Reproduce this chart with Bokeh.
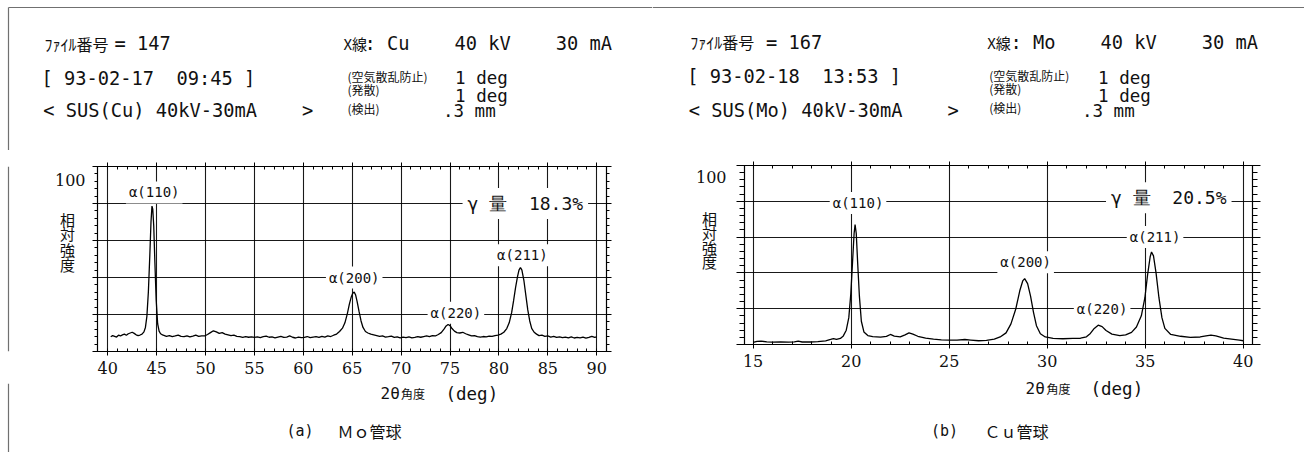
from bokeh.plotting import figure
from bokeh.models import Range1d, LinearAxis, SingleIntervalTicker, Label
from bokeh.layouts import row, column
from bokeh.core.properties import value
from bokeh.embed import file_html
from bokeh.resources import INLINE

# ---------------- data ----------------
# (a) left scan: 2theta (deg) and relative intensity
left_2theta = [
    40.3, 40.5, 40.7, 40.9, 41.1, 41.3, 41.5, 41.7, 41.9, 42.1,
    42.3, 42.5, 42.7, 42.9, 43.1, 43.3, 43.5, 43.7, 43.85, 44.0,
    44.15, 44.3, 44.42, 44.52, 44.6, 44.7, 44.82, 44.95, 45.1, 45.25,
    45.4, 45.6, 45.8, 46.0, 46.3, 46.6, 46.9, 47.2, 47.5, 47.8,
    48.1, 48.4, 48.7, 49.0, 49.3, 49.6, 49.9, 50.2, 50.5, 50.8,
    51.1, 51.4, 51.7, 52.0, 52.3, 52.6, 52.9, 53.2, 53.5, 53.8,
    54.1, 54.4, 54.7, 55.0, 55.3, 55.6, 55.9, 56.2, 56.5, 56.8,
    57.1, 57.4, 57.7, 58.0, 58.3, 58.6, 58.9, 59.2, 59.5, 59.8,
    60.1, 60.4, 60.7, 61.0, 61.3, 61.6, 61.9, 62.2, 62.5, 62.8,
    63.1, 63.4, 63.7, 64.0, 64.25, 64.5, 64.7, 64.9, 65.05, 65.2,
    65.35, 65.5, 65.7, 65.9, 66.1, 66.35, 66.6, 66.9, 67.2, 67.5,
    67.8, 68.1, 68.4, 68.7, 69.0, 69.3, 69.6, 69.9, 70.2, 70.5,
    70.8, 71.1, 71.4, 71.7, 72.0, 72.3, 72.6, 72.9, 73.2, 73.5,
    73.8, 74.1, 74.4, 74.6, 74.8, 75.0, 75.2, 75.45, 75.7, 76.0,
    76.3, 76.6, 76.9, 77.2, 77.5, 77.8, 78.1, 78.4, 78.7, 79.0,
    79.3, 79.6, 79.9, 80.2, 80.5, 80.8, 81.05, 81.3, 81.5, 81.7,
    81.9, 82.05, 82.2, 82.35, 82.55, 82.75, 82.95, 83.15, 83.35, 83.6,
    83.85, 84.1, 84.4, 84.7, 85.0, 85.3, 85.6, 85.9, 86.2, 86.5,
    86.8, 87.1, 87.4, 87.7, 88.0, 88.3, 88.6, 88.9, 89.2, 89.5,
    89.8, 90.0,
]
left_intensity = [
    8.0, 8.6, 8.2, 7.8, 8.8, 8.4, 9.0, 9.4, 8.8, 9.6,
    10.0, 10.4, 9.8, 9.0, 8.6, 8.9, 9.4, 10.6, 13.0, 19.0,
    32.0, 52.0, 70.0, 78.6, 77.0, 68.0, 48.0, 28.0, 15.0, 11.0,
    9.6, 9.0, 8.6, 8.2, 8.6, 8.0, 8.4, 8.9, 8.2, 8.0,
    8.5, 7.9, 8.3, 8.8, 8.2, 8.5, 8.4, 9.2, 10.2, 11.2,
    10.6, 9.8, 10.2, 9.4, 9.0, 8.6, 8.8, 8.2, 8.0, 7.6,
    8.0, 7.7, 7.9, 7.6, 7.9, 7.5, 8.0, 8.3, 7.7, 7.9,
    7.4, 7.8, 8.2, 7.6, 7.8, 8.4, 7.7, 7.3, 7.8, 7.5,
    7.6, 8.1, 7.5, 7.8, 8.0, 7.6, 8.2, 7.8, 8.4, 8.1,
    8.8, 9.4, 10.8, 12.6, 15.5, 20.5, 25.5, 29.5, 31.5, 32.1,
    30.5, 27.0, 21.5, 16.5, 13.0, 10.8, 10.0, 9.4, 9.0, 8.6,
    8.2, 8.4, 7.8, 8.0, 8.3, 7.6, 7.9, 7.4, 7.8, 7.5,
    7.9, 7.4, 7.6, 8.0, 7.7, 8.1, 8.4, 8.0, 8.6, 8.4,
    9.2, 10.2, 12.2, 13.8, 14.6, 14.0, 12.4, 11.0, 10.2, 10.0,
    10.4, 9.6, 9.0, 8.4, 8.6, 8.0, 7.8, 8.1, 7.9, 8.3,
    8.2, 8.6, 8.8, 9.4, 10.4, 12.4, 15.5, 21.0, 27.5, 34.5,
    40.5, 44.0, 45.4, 44.0, 38.5, 30.5, 22.5, 16.5, 12.5, 10.4,
    9.4, 8.6, 8.8, 8.2, 8.4, 7.8, 8.2, 7.6, 7.9, 7.5,
    7.8, 7.4, 7.9, 7.3, 7.6, 7.4, 7.8, 7.2, 7.6, 8.2,
    7.6, 7.9,
]

# (b) right scan
right_2theta = [
    15.0, 15.2, 15.4, 15.7, 16.0, 16.4, 16.8, 17.1, 17.3, 17.5,
    17.9, 18.3, 18.7, 18.95, 19.1, 19.25, 19.45, 19.6, 19.75, 19.88,
    19.98, 20.07, 20.15, 20.2, 20.26, 20.33, 20.42, 20.52, 20.65, 20.85,
    21.1, 21.5, 21.8, 22.0, 22.2, 22.5, 22.75, 22.95, 23.15, 23.4,
    23.8, 24.2, 24.6, 25.0, 25.4, 25.8, 26.1, 26.5, 26.9, 27.3,
    27.6, 27.9, 28.15, 28.4, 28.6, 28.75, 28.85, 29.0, 29.15, 29.3,
    29.45, 29.65, 29.9, 30.3, 30.8, 31.3, 31.7, 32.0, 32.2, 32.4,
    32.6, 32.8, 33.0, 33.3, 33.7, 34.0, 34.3, 34.55, 34.8, 34.98,
    35.12, 35.25, 35.32, 35.42, 35.55, 35.7, 35.85, 36.0, 36.3, 36.8,
    37.3, 37.8, 38.1, 38.35, 38.6, 39.0, 39.4, 39.8, 40.0,
]
right_intensity = [
    1.2, 1.8, 1.9, 1.5, 1.3, 1.5, 1.3, 1.5, 1.9, 1.4,
    1.4, 1.6, 2.0, 2.8, 3.3, 2.8, 3.4, 4.8, 8.0, 15.0,
    28.0, 46.0, 62.0, 67.0, 62.0, 46.0, 27.0, 13.0, 7.0, 5.0,
    4.4, 4.1, 4.5, 5.6, 4.7, 4.3, 5.4, 6.5, 5.8, 4.6,
    3.6, 3.0, 2.6, 2.4, 2.5, 2.8, 2.5, 2.1, 2.3, 3.0,
    4.2, 6.5, 11.5, 20.0, 30.0, 35.5, 36.8, 34.0, 27.0, 18.0,
    10.5, 6.0, 4.2, 3.4, 3.2, 3.4, 3.5, 4.3, 6.2, 9.0,
    10.8, 10.0, 7.8, 5.8, 5.0, 5.4, 6.8, 9.8, 16.0, 26.0,
    39.0, 49.0, 51.7, 49.5, 40.0, 26.0, 15.0, 9.0, 5.6, 4.6,
    4.0, 4.2, 4.8, 5.2, 4.8, 3.6, 3.0, 2.4, 2.1,
]

peak_names = ["α(110)", "α(200)", "α(220)", "α(211)"]
left_peak_x = [44.75, 65.2, 75.6, 82.4]
left_peak_y = [86, 40, 21, 52]
right_peak_x = [20.35, 28.9, 32.8, 35.5]
right_peak_y = [79, 46, 20, 60]

left_gamma = "γ 量  18.3%"
right_gamma = "γ 量  20.5%"

left_header = ["= 147", "[ 93-02-17  09:45 ]", "< SUS(Cu) 40kV-30mA    >",
               ": Cu    40 kV    30 mA"]
right_header = ["= 167", "[ 93-02-18  13:53 ]", "< SUS(Mo) 40kV-30mA    >",
                ": Mo    40 kV    30 mA"]
file_no_word = "ﾌｧｲﾙ番号"
xray_word = "X線"
slit_names = ["(空気散乱防止)", "(発散)", "(検出)"]
slit_values = ["1 deg", "1 deg", ".3 mm"]
left_caption = ["(a)", "Ｍｏ管球"]
right_caption = ["(b)", "Ｃｕ管球"]
y_label_chars = ["相", "対", "強", "度"]
y_top_label = "100"
x_label_parts = ["2θ", "角度", "(deg)"]

MONO = "DejaVu Sans Mono"
SERIF = "DejaVu Serif"
CJK = "Noto Sans CJK JP"
INK = "#111111"
RULE = "#707070"
NBSP = "\u00a0"


def keep_spaces(s):
    # SVG collapses runs of spaces; keep the printer's fixed-width spacing
    return s.replace(" ", NBSP)


def pixel_fig(w, h):
    """A figure whose frame is its whole canvas, in pixel units (y down)."""
    p = figure(width=w, height=h, x_range=Range1d(0, w), y_range=Range1d(h, 0),
               output_backend="svg", toolbar_location=None,
               x_axis_location=None, y_axis_location=None,
               min_border_left=0, min_border_right=0, min_border_top=0, min_border_bottom=0)
    p.grid.visible = False
    p.outline_line_color = None
    p.background_fill_color = "white"
    p.border_fill_color = "white"
    return p


def put(p, x, y, text, font, size, align="left"):
    p.text(x=[x], y=[y], text=[keep_spaces(text)], text_font=value(font),
           text_font_size=value(size), text_color=INK, text_align=align,
           text_baseline="middle")


def hidden_labels(ax):
    ax.major_label_text_color = None
    ax.major_label_text_font_size = "1px"
    ax.major_label_standoff = 0


def chart(width, height, borders, xr, xs, ys, ytick_out, yminor_out,
          px, py, gamma, gx, gy):
    lb, rb, tb, bb = borders
    p = figure(width=width, height=height, x_range=Range1d(*xr), y_range=Range1d(0, 100),
               output_backend="svg", toolbar_location=None,
               min_border_left=lb, min_border_right=rb,
               min_border_top=tb, min_border_bottom=bb)
    p.background_fill_color = "white"
    p.border_fill_color = "white"
    p.outline_line_color = "black"
    p.outline_line_width = 1.2

    tx = SingleIntervalTicker(interval=5, num_minor_ticks=5)
    ty = SingleIntervalTicker(interval=20, num_minor_ticks=5)

    xa = p.xaxis[0]
    xa.ticker = tx
    xa.major_tick_out = 4
    xa.major_tick_in = 0
    xa.minor_tick_in = 3
    xa.minor_tick_out = 0
    xa.major_label_standoff = 6
    xa.major_label_text_font = SERIF
    xa.major_label_text_font_size = "16px"
    xa.major_label_text_color = INK

    ya = p.yaxis[0]
    ya.ticker = ty
    ya.major_tick_out = ytick_out
    ya.major_tick_in = 0
    ya.minor_tick_out = yminor_out
    ya.minor_tick_in = 0
    hidden_labels(ya)

    top = LinearAxis(ticker=tx, major_tick_out=4, major_tick_in=0,
                     minor_tick_in=3, minor_tick_out=0)
    hidden_labels(top)
    p.add_layout(top, "above")
    right = LinearAxis(ticker=ty, major_tick_out=ytick_out, major_tick_in=0,
                       minor_tick_out=yminor_out, minor_tick_in=0)
    hidden_labels(right)
    p.add_layout(right, "right")

    for ax in (xa, ya, top, right):
        ax.axis_line_color = "black"
        ax.major_tick_line_color = "black"
        ax.minor_tick_line_color = "black"

    p.xgrid.ticker = tx
    p.ygrid.ticker = ty
    for g in (p.xgrid, p.ygrid):
        g.grid_line_color = "black"
        g.grid_line_width = 1.1
        g.grid_line_alpha = 0.9

    p.line(xs, ys, line_color="black", line_width=1.3)

    for name, x, y in zip(peak_names, px, py):
        p.add_layout(Label(x=x, y=y, text=name, text_font=MONO, text_font_size="14px",
                           text_color=INK, text_align="center", text_baseline="middle",
                           background_fill_color="white", padding=3))
    p.add_layout(Label(x=gx, y=gy, text=keep_spaces(gamma), text_font=MONO,
                       text_font_size="18px", text_color=INK, text_align="center",
                       text_baseline="middle", background_fill_color="white", padding=5))
    return p


# ================= (a) left panel : page x 0..652 =================
hA = pixel_fig(652, 150)
hA.segment(x0=[8, 8], y0=[7, 7], x1=[652, 8], y1=[7, 150], line_color=RULE, line_width=1.2)
put(hA, 44, 43.3, file_no_word, CJK, "16px")
put(hA, 114, 43.3, left_header[0], MONO, "18.7px")
put(hA, 41, 77.7, left_header[1], MONO, "18.7px")
put(hA, 42.7, 110, left_header[2], MONO, "18.7px")
put(hA, 343, 43.3, xray_word, CJK, "15px")
put(hA, 364, 43.3, left_header[3], MONO, "18.7px")
for name, yy in zip(slit_names, [76, 89.3, 108.3]):
    put(hA, 347, yy, name, CJK, "12px")
for val, xx, yy in zip(slit_values, [454.6, 454.6, 442.5], [77.3, 95.7, 110]):
    put(hA, xx, yy, val, MONO, "17.5px")

sA = pixel_fig(88, 233)
sA.segment(x0=[8], y0=[0], x1=[8], y1=[233], line_color=RULE, line_width=1.2)
put(sA, 85, 17, y_top_label, SERIF, "16px", align="right")
for ch, yy in zip(y_label_chars, [66.7, 85, 105, 123]):
    put(sA, 67, yy, ch, CJK, "15px", align="center")

cA = chart(564, 233, (9, 46, 16, 32), (38.95, 91.0), left_2theta, left_intensity,
           5, 3, left_peak_x, left_peak_y, left_gamma, 82.7, 80)

fA = pixel_fig(652, 69)
fA.segment(x0=[8], y0=[0], x1=[8], y1=[69], line_color=RULE, line_width=1.2)
put(fA, 380, 10.3, x_label_parts[0], MONO, "16px")
put(fA, 400.5, 10.3, x_label_parts[1], CJK, "12px")
put(fA, 445, 10.3, x_label_parts[2], MONO, "17.5px")
put(fA, 286, 47, left_caption[0], MONO, "15px")
put(fA, 337, 47, left_caption[1], CJK, "16px")

left_col = column(hA, row(sA, cA), fA)

# ================= (b) right panel : page x 652..1304 =================
hB = pixel_fig(652, 150)
hB.segment(x0=[0], y0=[7], x1=[652], y1=[7], line_color=RULE, line_width=1.2)
put(hB, 37.7, 41.7, file_no_word, CJK, "16px")
put(hB, 113.5, 41.7, right_header[0], MONO, "18.7px")
put(hB, 34.7, 76, right_header[1], MONO, "18.7px")
put(hB, 36.2, 110, right_header[2], MONO, "18.7px")
put(hB, 334.7, 41.7, xray_word, CJK, "15px")
put(hB, 358, 41.7, right_header[3], MONO, "18.7px")
for name, yy in zip(slit_names, [75, 88.3, 107.3]):
    put(hB, 336.8, yy, name, CJK, "12px")
for val, xx, yy in zip(slit_values, [445.6, 445.6, 429.5], [77.3, 95, 110]):
    put(hB, xx, yy, val, MONO, "17.5px")

sB = pixel_fig(82, 226)
put(sB, 74, 15, y_top_label, SERIF, "16px", align="right")
for ch, yy in zip(y_label_chars, [66.7, 85, 103, 121.7]):
    put(sB, 57, yy, ch, CJK, "15px", align="center")

cB = chart(570, 226, (10, 52, 15, 32), (14.56, 40.47), right_2theta, right_intensity,
           8, 5, right_peak_x, right_peak_y, right_gamma, 36.2, 82)

fB = pixel_fig(652, 76)
put(fB, 373, 12.3, x_label_parts[0], MONO, "16px")
put(fB, 394, 12.3, x_label_parts[1], CJK, "12px")
put(fB, 438, 12.3, x_label_parts[2], MONO, "17.5px")
put(fB, 278.5, 54, right_caption[0], MONO, "15px")
put(fB, 332, 54, right_caption[1], CJK, "16px")

right_col = column(hB, row(sB, cB), fB)

layout = row(left_col, right_col)

open("out.html", "w").write(file_html(layout, INLINE))
